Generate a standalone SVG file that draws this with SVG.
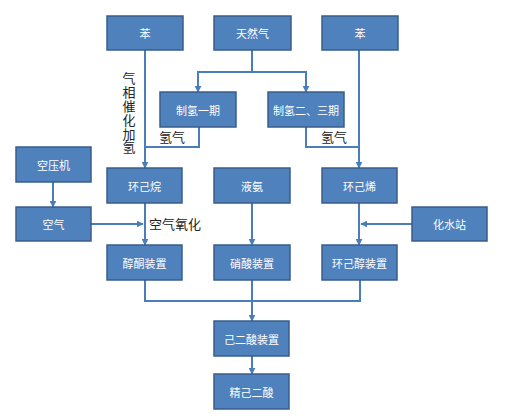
<svg xmlns="http://www.w3.org/2000/svg" width="512" height="416" viewBox="0 0 512 416">
<style>
.n rect{fill:#4F81BD;stroke:#385D8A;stroke-width:1.5}
.n text{fill:#fff;font-family:"Noto Sans CJK SC",sans-serif;font-size:11px;text-anchor:middle;dominant-baseline:central}
.c path{fill:none;stroke:#4A7EBB;stroke-width:2}
.lbl{fill:#222;font-family:"Noto Sans CJK SC",sans-serif;font-size:13px}
</style>
<defs>
<marker id="ar" viewBox="0 0 10 10" refX="9" refY="5" markerWidth="3.5" markerHeight="3.5" orient="auto" markerUnits="strokeWidth">
<path d="M0,0 L10,5 L0,10 Z" fill="#4A7EBB"/>
</marker>
</defs>
<rect width="512" height="416" fill="#fff"/>
<g class="c">
<path d="M145,50 V168" marker-end="url(#ar)"/>
<path d="M359,50 V168" marker-end="url(#ar)"/>
<path d="M252,50 V72 H198 V92" marker-end="url(#ar)"/>
<path d="M252,72 H306 V92" marker-end="url(#ar)"/>
<path d="M199,127 V147 H145"/>
<path d="M306,127 V147 H359"/>
<path d="M53,182 V207" marker-end="url(#ar)"/>
<path d="M145,203 V245" marker-end="url(#ar)"/>
<path d="M91,224 H143" marker-end="url(#ar)"/>
<path d="M252,203 V245" marker-end="url(#ar)"/>
<path d="M359,203 V245" marker-end="url(#ar)"/>
<path d="M412,224 H361" marker-end="url(#ar)"/>
<path d="M145,280 V301 H360 V280"/>
<path d="M252,280 V321" marker-end="url(#ar)"/>
<path d="M252,356 V374" marker-end="url(#ar)"/>
</g>
<g id="n-ben1" class="n"><rect x="107" y="16" width="76" height="34"/><text x="145" y="33">苯</text></g>
<g id="n-trq" class="n"><rect x="214" y="16" width="77" height="34"/><text x="252.5" y="33">天然气</text></g>
<g id="n-ben2" class="n"><rect x="322" y="16" width="76" height="34"/><text x="360" y="33">苯</text></g>
<g id="n-zq1" class="n"><rect x="160" y="92" width="76" height="35"/><text x="198" y="109.5">制氢一期</text></g>
<g id="n-zq23" class="n"><rect x="268" y="92" width="76" height="35"/><text x="306" y="109.5">制氢二、三期</text></g>
<g id="n-kyj" class="n"><rect x="16" y="147" width="75" height="35"/><text x="53.5" y="164.5">空压机</text></g>
<g id="n-hjw" class="n"><rect x="107" y="168" width="75" height="35"/><text x="144.5" y="185.5">环己烷</text></g>
<g id="n-ya" class="n"><rect x="214" y="168" width="76" height="35"/><text x="252" y="185.5">液氨</text></g>
<g id="n-hjx" class="n"><rect x="322" y="168" width="75" height="35"/><text x="359.5" y="185.5">环己烯</text></g>
<g id="n-kq" class="n"><rect x="16" y="207" width="75" height="34"/><text x="53.5" y="224">空气</text></g>
<g id="n-hsz" class="n"><rect x="412" y="207" width="75" height="34"/><text x="449.5" y="224">化水站</text></g>
<g id="n-ct" class="n"><rect x="107" y="245" width="75" height="35"/><text x="144.5" y="262.5">醇酮装置</text></g>
<g id="n-xs" class="n"><rect x="214" y="245" width="76" height="35"/><text x="252" y="262.5">硝酸装置</text></g>
<g id="n-hjc" class="n"><rect x="322" y="245" width="75" height="35"/><text x="359.5" y="262.5">环己醇装置</text></g>
<g id="n-jes" class="n"><rect x="214" y="321" width="75" height="35"/><text x="251.5" y="338.5">己二酸装置</text></g>
<g id="n-jjes" class="n"><rect x="214" y="374" width="75" height="35"/><text x="251.5" y="391.5">精己二酸</text></g>
<g id="labels">
<text class="lbl" x="129" y="72" style="writing-mode:vertical-rl;letter-spacing:0.8px">气相催化加氢</text>
<text class="lbl" x="159" y="142">氢气</text>
<text class="lbl" x="321" y="142">氢气</text>
<text class="lbl" x="149" y="229">空气氧化</text>
</g>
</svg>
